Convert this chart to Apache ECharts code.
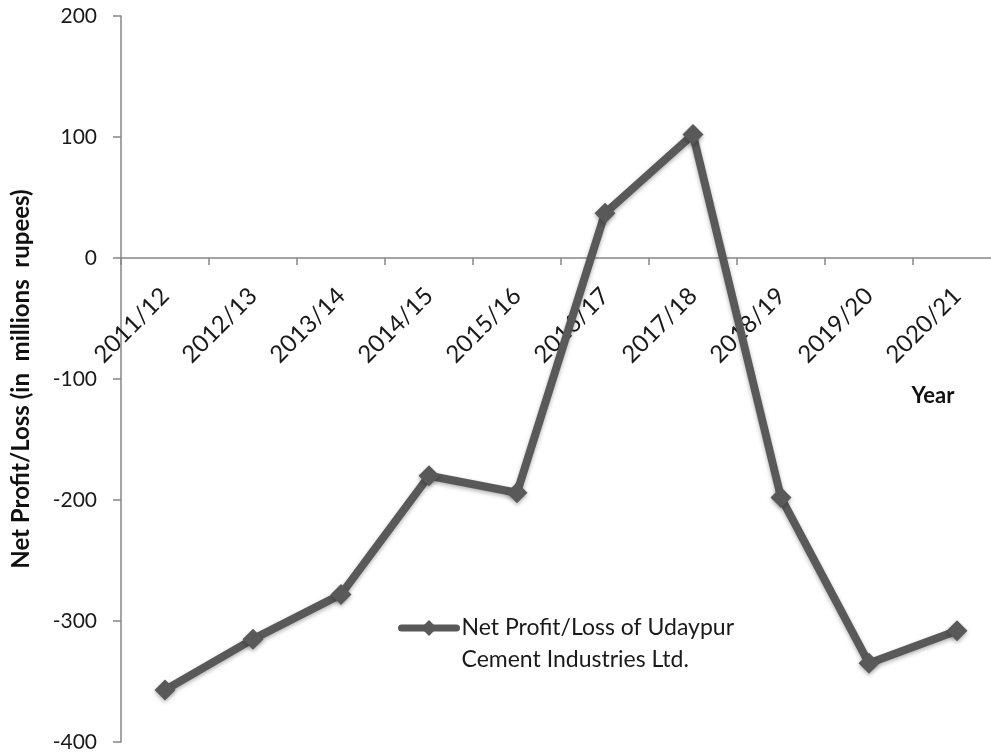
<!DOCTYPE html>
<html>
<head>
<meta charset="utf-8">
<script src="https://cdn.jsdelivr.net/npm/echarts@6/dist/echarts.min.js"></script>
<style>
html,body{margin:0;padding:0;background:#fff;}
#chart{width:991px;height:755px;}
</style>
</head>
<body>
<div id="chart"></div>
<script>
const years = ['2011/12','2012/13','2013/14','2014/15','2015/16','2016/17','2017/18','2018/19','2019/20','2020/21'];
const netProfitLoss = [-357, -315, -278, -180, -194, 37, 102, -198, -335, -308];
const seriesName = 'Net Profit/Loss of Udaypur\nCement Industries Ltd.';
const yTitle = 'Net Profit/Loss (in  millions  rupees)';
const xTitle = 'Year';

const FONT = 'Lato, "Noto Sans", sans-serif';
const chart = echarts.init(document.getElementById('chart'));
chart.setOption({
  animation: false,
  backgroundColor: '#ffffff',
  grid: { left: 121, top: 16, width: 880, height: 726, containLabel: false, outerBoundsMode: 'none' },
  legend: {
    left: 398, top: 580, padding: 0,
    itemWidth: 55, itemHeight: 20, itemGap: 0,
    data: [seriesName],
    formatter: function (name) { return ' \n' + name; },
    lineStyle: { width: 7, cap: 'round' },
    textStyle: { fontFamily: FONT, fontSize: 23, color: '#1a1a1a', lineHeight: 32 }
  },
  xAxis: {
    type: 'category',
    data: years,
    boundaryGap: true,
    position: 'bottom',
    offset: -484,
    name: '\n\n\n\n\n' + xTitle,
    nameLocation: 'end',
    nameGap: -68,
    nameMoveOverlap: false,
    nameTextStyle: { fontFamily: FONT, fontSize: 22, fontWeight: 'bold', color: '#111', align: 'center', verticalAlign: 'top', lineHeight: 25 },
    axisLine: { onZero: false, lineStyle: { color: '#868686', width: 1.5 } },
    axisTick: { show: true, inside: false, length: 7, interval: 0, alignWithLabel: false, lineStyle: { color: '#868686', width: 1.5 } },
    axisLabel: { interval: 0, rotate: 45, margin: 34, fontFamily: FONT, fontSize: 24, color: '#1a1a1a' },
    splitLine: { show: false }
  },
  yAxis: {
    type: 'value',
    min: -400, max: 200, interval: 100,
    name: yTitle,
    nameLocation: 'middle',
    nameGap: 88,
    nameRotate: 90,
    nameMoveOverlap: false,
    nameTextStyle: { fontFamily: FONT, fontSize: 24, fontWeight: 'bold', color: '#111' },
    axisLine: { show: true, lineStyle: { color: '#868686', width: 1.5 } },
    axisTick: { show: true, inside: false, length: 8, lineStyle: { color: '#868686', width: 1.5 } },
    axisLabel: { margin: 24, fontFamily: FONT, fontSize: 21, color: '#1a1a1a' },
    splitLine: { show: false }
  },
  series: [{
    name: seriesName,
    type: 'line',
    data: netProfitLoss,
    symbol: 'diamond',
    symbolSize: 21,
    showAllSymbol: true,
    lineStyle: { color: '#595959', width: 8, shadowColor: 'rgba(0,0,0,0.3)', shadowBlur: 4, shadowOffsetY: 2 },
    itemStyle: { color: '#595959', shadowColor: 'rgba(0,0,0,0.3)', shadowBlur: 4, shadowOffsetY: 2 }
  }]
});
</script>
</body>
</html>
